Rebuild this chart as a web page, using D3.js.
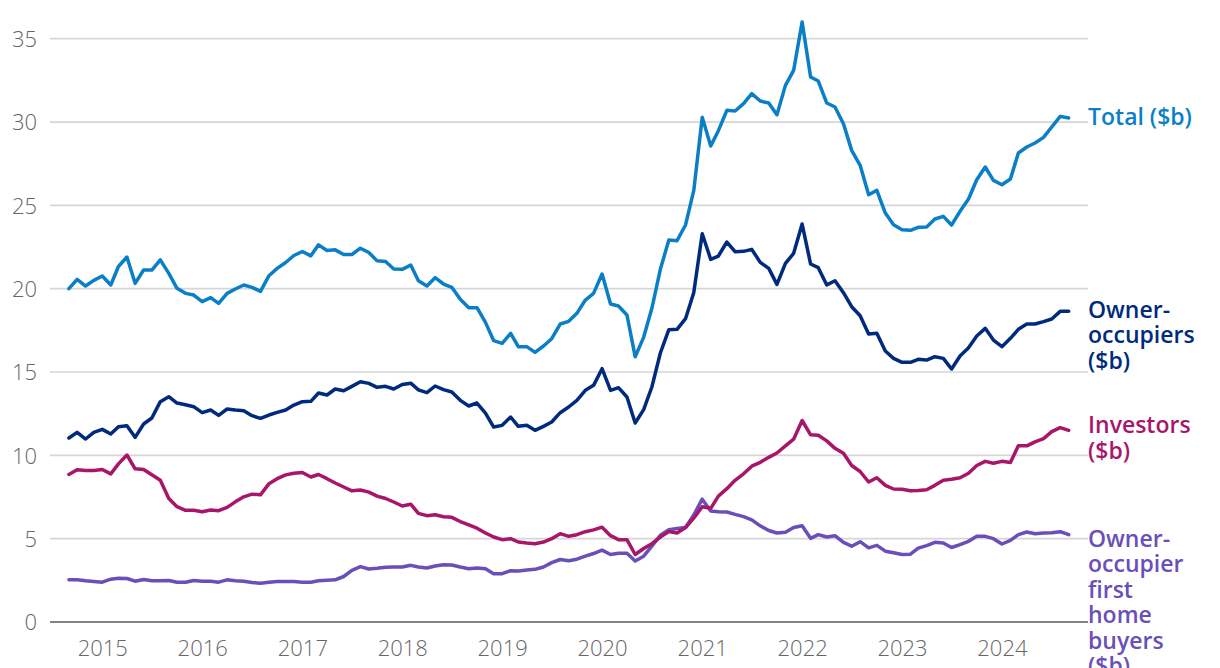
<!DOCTYPE html>
<html>
<head>
<meta charset="utf-8">
<script src="https://cdn.jsdelivr.net/npm/d3@7"></script>
<style>
  html, body { margin: 0; padding: 0; background: #fff; overflow: hidden; }
  svg { display: block; }
</style>
</head>
<body>
<svg id="chart" width="1220" height="668"></svg>
<script>
// ---- Data (monthly, Sep 2014 – Sep 2024) ----
const startMonth = new Date(2014, 8, 1);

const total = [
  20.0,20.56,20.16,20.5,20.76,20.22,21.33,21.9,20.32,21.12,
  21.12,21.73,20.92,20.02,19.72,19.62,19.22,19.46,19.12,19.72,
  19.98,20.22,20.08,19.84,20.78,21.22,21.57,21.99,22.23,21.97,
  22.63,22.29,22.33,22.05,22.05,22.43,22.17,21.67,21.63,21.18,
  21.16,21.42,20.48,20.16,20.66,20.28,20.08,19.36,18.86,18.86,
  17.98,16.88,16.72,17.32,16.52,16.52,16.18,16.56,17.0,17.88,
  18.04,18.52,19.32,19.72,20.88,19.08,18.96,18.42,15.92,17.08,
  18.82,21.16,22.92,22.88,23.82,25.88,30.28,28.56,29.48,30.7,
  30.66,31.1,31.7,31.26,31.14,30.44,32.2,33.1,36.0,32.7,
  32.46,31.14,30.9,29.9,28.3,27.4,25.64,25.9,24.54,23.84,
  23.54,23.5,23.68,23.7,24.18,24.34,23.82,24.64,25.38,26.54,
  27.3,26.5,26.24,26.58,28.14,28.5,28.74,29.08,29.7,30.34,
  30.24
];

const ownerOccupiers = [
  11.04,11.38,10.98,11.38,11.56,11.28,11.72,11.78,11.08,11.88,
  12.24,13.22,13.52,13.14,13.04,12.92,12.56,12.72,12.4,12.78,
  12.72,12.68,12.38,12.22,12.42,12.58,12.72,13.02,13.22,13.24,
  13.74,13.62,13.98,13.88,14.14,14.42,14.32,14.08,14.14,13.98,
  14.25,14.33,13.93,13.76,14.16,13.94,13.8,13.3,12.96,13.14,
  12.54,11.7,11.8,12.3,11.74,11.8,11.5,11.74,12.0,12.56,
  12.9,13.3,13.9,14.2,15.2,13.9,14.06,13.5,11.94,12.74,
  14.1,16.14,17.54,17.56,18.2,19.76,23.3,21.76,21.96,22.8,
  22.22,22.24,22.36,21.58,21.22,20.26,21.52,22.12,23.88,21.48,
  21.26,20.22,20.48,19.76,18.92,18.38,17.28,17.32,16.26,15.82,
  15.58,15.58,15.76,15.72,15.92,15.82,15.18,15.96,16.46,17.16,
  17.62,16.92,16.52,17.02,17.56,17.88,17.88,18.02,18.18,18.64,
  18.64
];

const investors = [
  8.85,9.13,9.09,9.09,9.15,8.89,9.49,10.02,9.19,9.15,
  8.83,8.5,7.41,6.92,6.7,6.7,6.62,6.72,6.68,6.88,
  7.21,7.51,7.67,7.63,8.3,8.6,8.83,8.93,8.97,8.7,
  8.85,8.6,8.34,8.1,7.87,7.92,7.79,7.55,7.41,7.2,
  6.96,7.07,6.52,6.38,6.44,6.32,6.28,6.03,5.83,5.63,
  5.34,5.1,4.94,5.0,4.8,4.74,4.7,4.8,5.0,5.3,
  5.14,5.24,5.42,5.53,5.69,5.18,4.94,4.94,4.05,4.41,
  4.7,5.1,5.43,5.34,5.67,6.23,6.92,6.82,7.55,8.0,
  8.5,8.89,9.35,9.58,9.88,10.14,10.57,10.97,12.09,11.23,
  11.21,10.87,10.42,10.12,9.39,9.03,8.4,8.66,8.2,7.98,
  7.96,7.87,7.89,7.94,8.2,8.5,8.56,8.66,8.93,9.39,
  9.64,9.53,9.64,9.57,10.57,10.57,10.81,11.0,11.42,11.66,
  11.5
];

const firstHomeBuyers = [
  2.53,2.53,2.47,2.43,2.39,2.57,2.63,2.61,2.45,2.55,
  2.47,2.47,2.49,2.39,2.39,2.49,2.45,2.45,2.39,2.53,
  2.47,2.45,2.37,2.33,2.39,2.43,2.43,2.43,2.39,2.39,
  2.47,2.51,2.53,2.73,3.1,3.32,3.18,3.22,3.28,3.3,
  3.3,3.4,3.3,3.24,3.36,3.44,3.42,3.3,3.2,3.24,
  3.2,2.9,2.9,3.08,3.06,3.12,3.16,3.3,3.56,3.75,
  3.68,3.77,3.95,4.11,4.31,4.05,4.13,4.13,3.66,3.95,
  4.55,5.2,5.53,5.61,5.67,6.42,7.37,6.66,6.62,6.6,
  6.46,6.32,6.13,5.77,5.49,5.34,5.38,5.67,5.77,5.02,
  5.24,5.1,5.18,4.78,4.55,4.82,4.45,4.6,4.25,4.15,
  4.05,4.07,4.43,4.58,4.78,4.74,4.47,4.64,4.84,5.14,
  5.14,5.0,4.68,4.9,5.24,5.4,5.3,5.34,5.36,5.42,
  5.24
];

const yearLabels = ["2015","2016","2017","2018","2019","2020","2021","2022","2023","2024"];
const yTicks = [0, 5, 10, 15, 20, 25, 30, 35];

const seriesValues = [firstHomeBuyers, investors, ownerOccupiers, total];
const seriesLabels = [
  ["Owner-", "occupier", "first", "home", "buyers", "($b)"],
  ["Investors", "($b)"],
  ["Owner-", "occupiers", "($b)"],
  ["Total ($b)"]
];

// ---- Styles ----
const colors = ["#6a4fbb", "#a8166a", "#002a7d", "#0a7fc8"];
const labelDy = [12, 3, 6.5, 6.5];
const fontFamily = "'Open Sans', 'Noto Sans', sans-serif";

// ---- Chart ----
const svg = d3.select("#chart");
const dates = total.map((_, i) => d3.timeMonth.offset(startMonth, i));

const x = d3.scaleTime()
  .domain([dates[0], dates[dates.length - 1]])
  .range([68.9, 1068.7]);
const y = d3.scaleLinear().domain([0, 35]).range([622, 38.7]);

const gridLeft = 50, gridRight = 1088;

// gridlines
svg.append("g").selectAll("line")
  .data(yTicks.filter(d => d !== 0))
  .join("line")
  .attr("x1", gridLeft).attr("x2", gridRight)
  .attr("y1", d => y(d)).attr("y2", d => y(d))
  .attr("stroke", "#d6d6d6").attr("stroke-width", 1.7);

// y axis labels
const yAxis = d3.axisLeft(y).tickValues(yTicks).tickSize(0).tickPadding(0);
const gy = svg.append("g").attr("transform", "translate(37,0)").call(yAxis);
gy.select(".domain").remove();
gy.selectAll("text")
  .attr("fill", "#666")
  .style("font-family", fontFamily)
  .style("font-weight", 300)
  .style("font-size", "22px")
  .attr("dy", "0.35em");

// x axis (baseline)
svg.append("line")
  .attr("x1", gridLeft).attr("x2", gridRight)
  .attr("y1", y(0)).attr("y2", y(0))
  .attr("stroke", "#5a5a5a").attr("stroke-width", 1.7);

const xAxis = d3.axisBottom(x)
  .tickValues(yearLabels.map(s => new Date(+s, 0, 1)))
  .tickFormat(d3.timeFormat("%Y"))
  .tickSize(0).tickPadding(0);
const gx = svg.append("g").attr("transform", "translate(0,656)").call(xAxis);
gx.select(".domain").remove();
gx.selectAll("text")
  .attr("y", 0).attr("dy", 0)
  .attr("fill", "#666")
  .style("font-family", fontFamily)
  .style("font-weight", 300)
  .style("font-size", "22px");

// lines
const line = d3.line()
  .x((d, i) => x(dates[i]))
  .y(d => y(d));

seriesValues.forEach((vals, k) => {
  svg.append("path")
    .datum(vals)
    .attr("fill", "none")
    .attr("stroke", colors[k])
    .attr("stroke-width", 3.5)
    .attr("stroke-linejoin", "round")
    .attr("stroke-linecap", "round")
    .attr("d", line);
});

// series labels (one text element per line)
seriesValues.forEach((vals, k) => {
  const last = vals[vals.length - 1];
  const y0 = y(last) + labelDy[k];
  svg.append("g").selectAll("text")
    .data(seriesLabels[k])
    .join("text")
    .attr("x", 1088)
    .attr("y", (s, j) => y0 + j * 25.5)
    .attr("fill", colors[k])
    .style("font-family", fontFamily)
    .style("font-weight", 600)
    .style("font-size", "23px")
    .text(s => s);
});
</script>
</body>
</html>
